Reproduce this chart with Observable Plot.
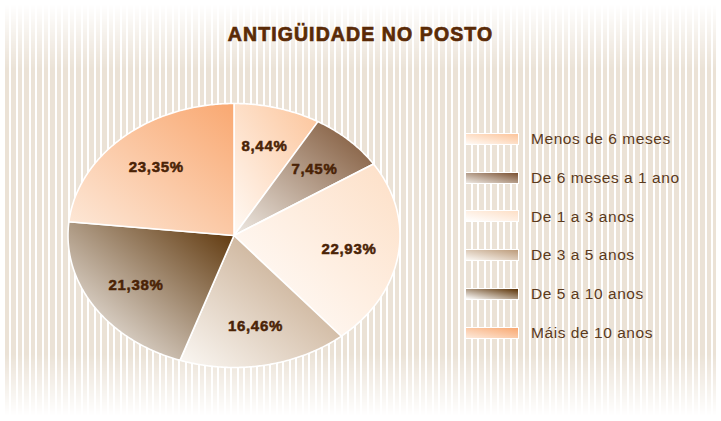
<!DOCTYPE html>
<html>
<head>
<meta charset="utf-8">
<script src="https://cdn.jsdelivr.net/npm/d3@7"></script>
<script src="https://cdn.jsdelivr.net/npm/@observablehq/plot@0.6"></script>
<style>
  body { margin: 0; background: #ffffff; }
  #wrap { position: relative; width: 721px; height: 421px; overflow: hidden;
          font-family: "Liberation Sans", Arial, Helvetica, sans-serif; }
  #bg { position: absolute; left: 5px; top: 4px; width: 711px; height: 412px;
        background: repeating-linear-gradient(90deg, #ebe2d6 0px, #ebe2d6 4.3px, #ffffff 4.3px, #ffffff 6.5px);
        -webkit-mask-image: linear-gradient(to bottom, rgba(0,0,0,0) 0px, rgba(0,0,0,1) 65px, rgba(0,0,0,1) 350px, rgba(0,0,0,0) 412px);
        mask-image: linear-gradient(to bottom, rgba(0,0,0,0) 0px, rgba(0,0,0,1) 65px, rgba(0,0,0,1) 350px, rgba(0,0,0,0) 412px); }
  #title { position: absolute; top: 25px; left: 0; width: 721px; text-align: center;
           font-weight: bold; font-size: 19.5px; line-height: 19px; letter-spacing: 1.1px;
           color: #5a2a06; -webkit-text-stroke: 0.7px #5a2a06; }
  #chart { position: absolute; left: 0; top: 0; }
  .sw { position: absolute; left: 465px; width: 54px; height: 12px; box-sizing: border-box;
        border: 1px solid #ffffff; }
  .lt { position: absolute; left: 531px; font-size: 15.5px; line-height: 15px; letter-spacing: 0.55px;
        color: #5b3a1c; white-space: nowrap; }
</style>
</head>
<body>
<div id="wrap">
  <div id="bg"></div>
  <div id="title">ANTIGÜIDADE NO POSTO</div>
  <div id="chart"></div>
  <div id="legend"></div>
</div>
<script>
const categories = ["Menos de 6 meses", "De 6 meses a 1 ano", "De 1 a 3 anos", "De 3 a 5 anos", "De 5 a 10 anos", "Máis de 10 anos"];
const values = [8.44, 7.45, 22.93, 16.46, 21.38, 23.35];
const lightColors = ["#fffaf5", "#efeae4", "#ffffff", "#fbf8f4", "#ffffff", "#fdeadb"];
const darkColors  = ["#fcc49a", "#7a5030", "#fddfc6", "#bc9b7a", "#5a3104", "#f9a871"];

const fmt = v => v.toFixed(2).replace(".", ",") + "%";

const arcs = d3.pie().sort(null).value(d => d)(values);

const slices = arcs.map((a, i) => {
  const pts = [{x: 0, y: 0}];
  const n = Math.max(8, Math.ceil((a.endAngle - a.startAngle) / 0.01));
  for (let k = 0; k <= n; k++) {
    const t = a.startAngle + (a.endAngle - a.startAngle) * k / n;
    pts.push({x: Math.sin(t), y: Math.cos(t)});
  }
  pts.push({x: 0, y: 0});
  return pts;
});

const labelData = arcs.map((a, i) => {
  const m = (a.startAngle + a.endAngle) / 2;
  const r = 0.7;
  return {x: r * Math.sin(m), y: r * Math.cos(m), t: fmt(values[i])};
});

const chart = Plot.plot({
  width: 721,
  height: 421,
  margin: 0,
  x: {domain: [-1, 1], range: [67.5, 399.5], axis: null},
  y: {domain: [-1, 1], range: [367, 103], axis: null},
  style: {background: "transparent", overflow: "visible"},
  marks: [
    ...slices.map((pts, i) => Plot.line(pts, {
      x: "x", y: "y", fill: `url(#g${i})`, stroke: "#ffffff",
      strokeWidth: 1.6, strokeLinejoin: "round", strokeOpacity: 1
    })),
    Plot.text(labelData, {
      x: "x", y: "y", text: "t", fill: "#4a2306", stroke: "#4a2306", strokeWidth: 0.5,
      fontSize: 15, fontWeight: "bold",
      fontFamily: "Liberation Sans, Arial, sans-serif", textAnchor: "middle"
    })
  ]
});

const svg = d3.select(chart);
const defs = svg.insert("defs", ":first-child");
categories.forEach((c, i) => {
  const g = defs.append("linearGradient").attr("id", `g${i}`)
    .attr("x1", 0).attr("y1", 1).attr("x2", 1).attr("y2", 0);
  g.append("stop").attr("offset", 0).attr("stop-color", lightColors[i]);
  g.append("stop").attr("offset", 1).attr("stop-color", darkColors[i]);
});
svg.selectAll("text").style("letter-spacing", "0.7px");

document.getElementById("chart").appendChild(chart);

const legend = d3.select("#legend");
categories.forEach((c, i) => {
  const top = 133 + i * 38.7;
  legend.append("div").attr("class", "sw")
    .style("top", top + "px")
    .style("background", `linear-gradient(to top right, ${lightColors[i]}, ${darkColors[i]})`);
  legend.append("div").attr("class", "lt")
    .style("top", (top - 1.7) + "px")
    .text(c);
});
</script>
</body>
</html>
